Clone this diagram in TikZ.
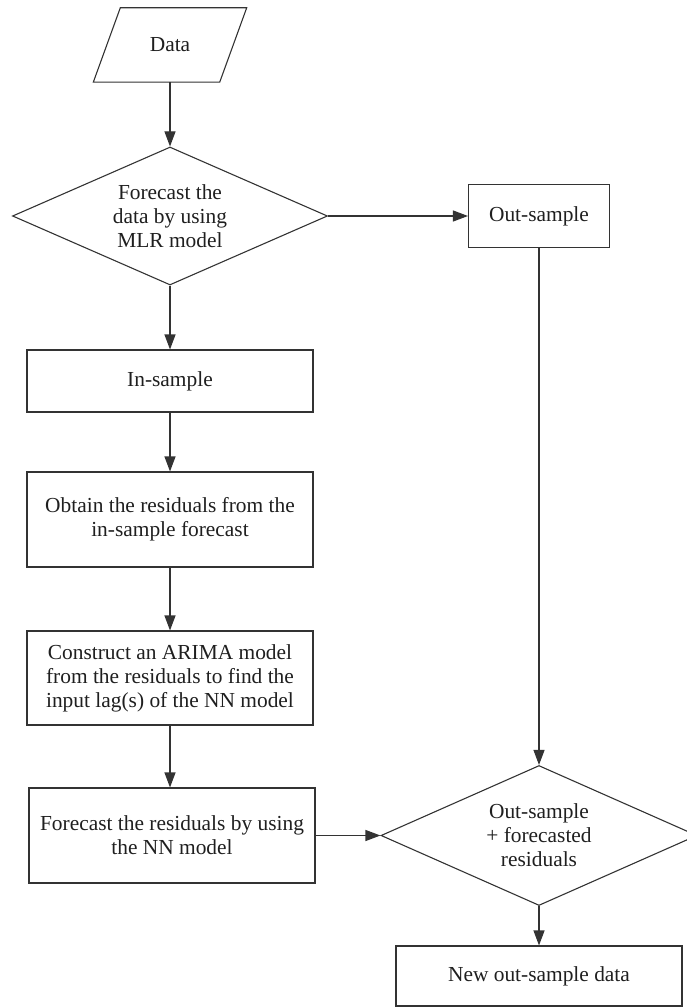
\documentclass[tikz,border=0pt]{standalone}
\usepackage{fontspec}
\setmainfont{Liberation Serif}
\usetikzlibrary{shapes.geometric,arrows.meta}
\begin{document}
\begin{tikzpicture}[x=1pt,y=-1pt,
  every node/.style={font=\fontsize{21.4}{24}\selectfont, text=black!88, align=center},
  line/.style={draw=black!80, line width=1.1pt},
  box/.style={line, rectangle, inner sep=0pt},
  dec/.style={line, diamond, inner sep=0pt, aspect=2.28},
  arr/.style={line, -{Triangle[length=15pt,width=11pt]}}]
\useasboundingbox (0,0) rectangle (686,1008);
\node[rectangle, inner sep=0pt, minimum width=126pt, minimum height=74pt] (data) at (170,45) {Data};
\draw[line, line join=miter] ([xshift=-13.5pt]data.south west) -- ([xshift=13.5pt]data.north west) -- ([xshift=13.5pt]data.north east) -- ([xshift=-13.5pt]data.south east) -- cycle;
\node[dec, minimum width=315pt, minimum height=138pt] (d1) at (170,216) {Forecast the\\data by using\\MLR model};
\node[box, minimum width=141pt, minimum height=63pt] (out) at (539,216) {Out-sample};
\node[box, minimum width=286pt, minimum height=62pt] (ins) at (170,381) {In-sample};
\node[box, minimum width=286pt, minimum height=95pt] (obt) at (170,519.5) {Obtain the residuals from the\\in-sample forecast};
\node[box, minimum width=286pt, minimum height=94pt] (con) at (170,678) {Construct an ARIMA model\\from the residuals to find the\\input lag(s) of the NN model};
\node[box, minimum width=286pt, minimum height=95pt] (fnn) at (172,835.5) {Forecast the residuals by using\\the NN model};
\node[dec, minimum width=316pt, minimum height=140pt] (d2) at (539,835.5) {Out-sample\\+ forecasted\\residuals};
\node[box, minimum width=286pt, minimum height=60pt] (new) at (539,976) {New out-sample data};
\draw[arr] (data.south) -- (d1.north);
\draw[arr] (d1.east) -- (out.west);
\draw[arr] (d1.south) -- (ins.north);
\draw[arr] (ins.south) -- (obt.north);
\draw[arr] (obt.south) -- (con.north);
\draw[arr] (con.south) -- (con.south |- fnn.north);
\draw[arr] (out.south) -- (d2.north);
\draw[arr] (fnn.east) -- (d2.west);
\draw[arr] (d2.south) -- (new.north);
\end{tikzpicture}
\end{document}
